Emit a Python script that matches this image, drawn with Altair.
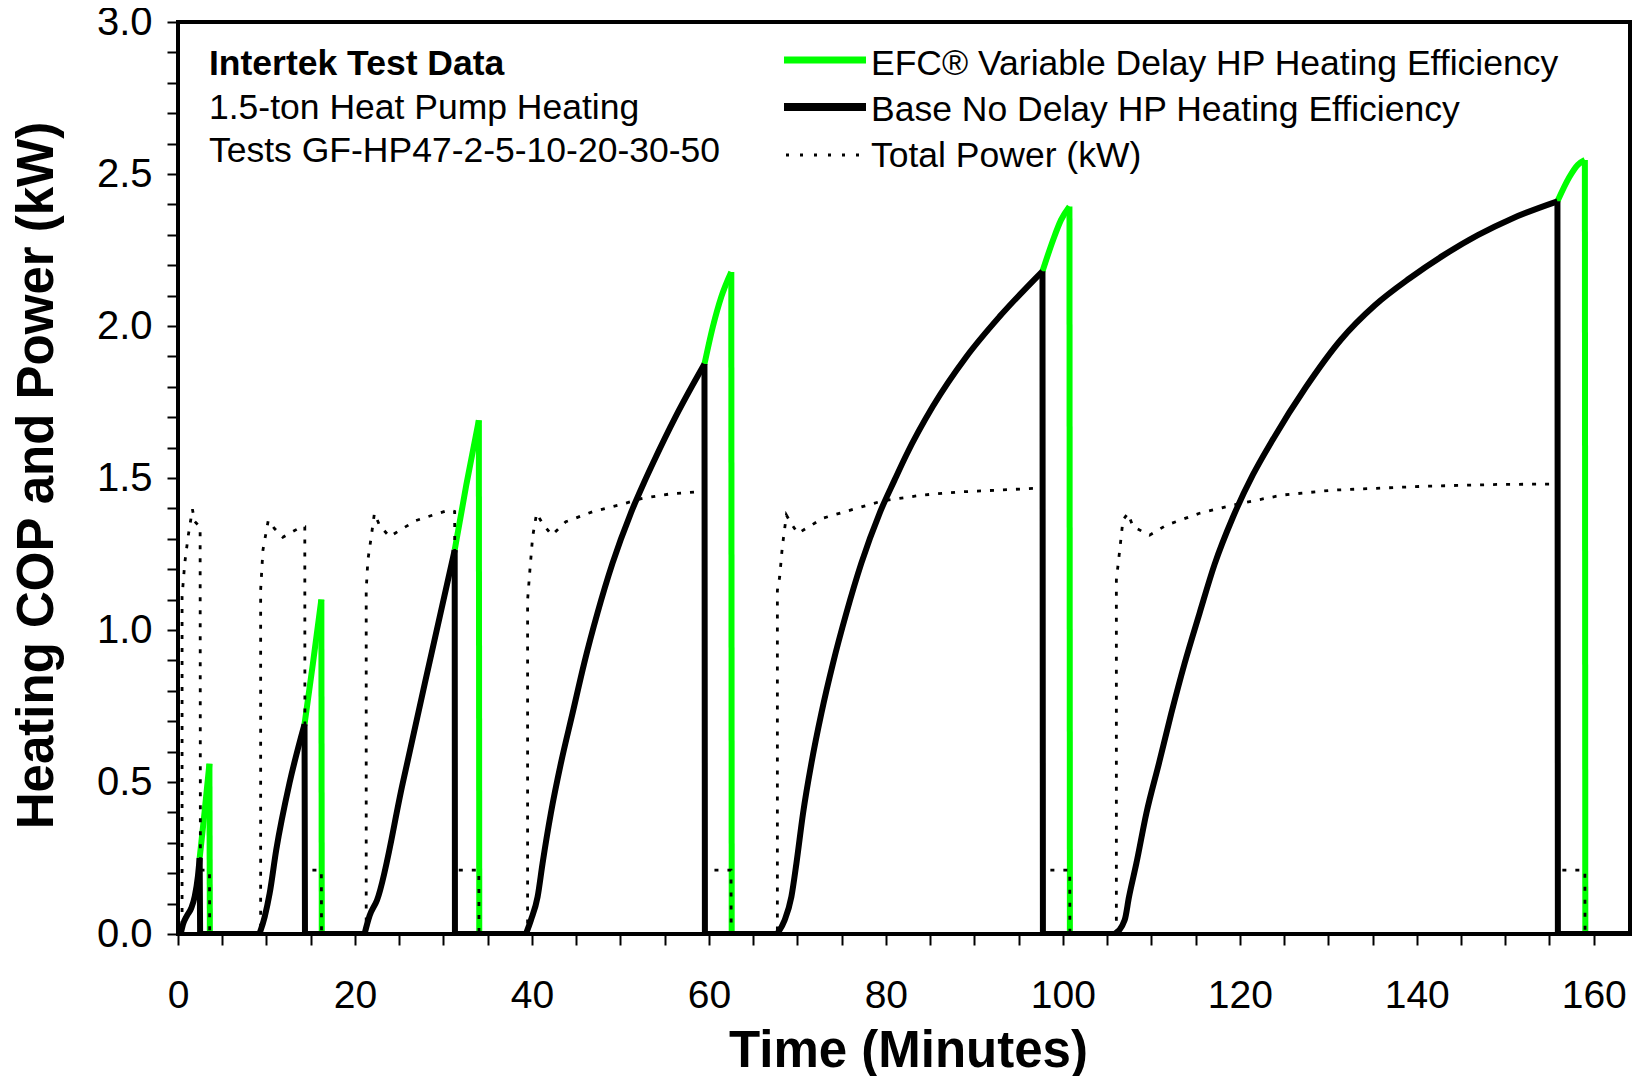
import altair as alt
import pandas as pd

# ---------------- data ----------------
# Base (no delay) heat-pump heating COP, minutes vs COP
base_t = [0, 0.3, 0.6, 1.0, 1.5, 1.9, 2.25, 2.45, 2.5,
          9.2, 9.8, 10.36, 11.1, 12.6, 14.3, 14.35,
          21.08, 21.65, 22.5, 25.4, 27.9, 31.27, 31.3,
          39.32, 39.89, 40.64, 41.2, 42.14, 43.27, 44.59, 45.9, 47.4, 49.1, 51.17, 52.67, 53.7, 56.3, 59.5, 59.55,
          67.7, 68.57, 69.32, 69.89, 70.64, 71.58, 72.71, 74.02, 75.53, 77.22, 79.29, 80.98, 82.3, 85.3, 89.1, 92.85, 97.7, 97.75,
          105.86, 106.99, 107.48, 108.31, 109.44, 110.86, 112.26, 113.76, 115.45, 117.14, 119.21, 121.47, 123.6, 127.5,
          131.4, 135.3, 139.2, 143.1, 146.9, 150.8, 155.9, 155.95,
          165]
base_cop = [0, 0, 0.035, 0.06, 0.085, 0.125, 0.19, 0.25, 0,
            0, 0.057, 0.134, 0.276, 0.496, 0.69, 0,
            0, 0.06, 0.112, 0.496, 0.825, 1.263, 0,
            0, 0.046, 0.122, 0.232, 0.397, 0.561, 0.726, 0.89, 1.055, 1.219, 1.384, 1.485, 1.55, 1.705, 1.875, 0,
            0, 0.046, 0.122, 0.232, 0.397, 0.561, 0.726, 0.89, 1.055, 1.219, 1.384, 1.493, 1.575, 1.735, 1.899, 2.031, 2.18, 0,
            0, 0.046, 0.122, 0.232, 0.397, 0.561, 0.726, 0.89, 1.055, 1.215, 1.37, 1.51, 1.62, 1.80,
            1.954, 2.069, 2.157, 2.234, 2.299, 2.354, 2.41, 0,
            0]

# EFC variable delay heating COP (same as base while compressor runs, then keeps rising during fan delay)
efc_t = [0, 0.3, 0.6, 1.0, 1.5, 1.9, 2.25, 2.45, 3.0, 3.55, 3.6,
         9.2, 9.8, 10.36, 11.1, 12.6, 14.3, 15.25, 16.2, 16.25,
         21.08, 21.65, 22.5, 25.4, 27.9, 31.27, 32.6, 34.0, 34.05,
         39.32, 39.89, 40.64, 41.2, 42.14, 43.27, 44.59, 45.9, 47.4, 49.1, 51.17, 52.67, 53.7, 56.3, 59.5,
         60.45, 61.4, 62.53, 62.58,
         67.7, 68.57, 69.32, 69.89, 70.64, 71.58, 72.71, 74.02, 75.53, 77.22, 79.29, 80.98, 82.3, 85.3, 89.1, 92.85, 97.7,
         98.9, 99.8, 100.75, 100.8,
         105.86, 106.99, 107.48, 108.31, 109.44, 110.86, 112.26, 113.76, 115.45, 117.14, 119.21, 121.47, 123.6, 127.5,
         131.4, 135.3, 139.2, 143.1, 146.9, 150.8, 155.9,
         157.25, 158.2, 159.0, 159.05,
         165]
efc_cop = [0, 0, 0.035, 0.06, 0.085, 0.125, 0.19, 0.25, 0.40, 0.56, 0,
           0, 0.057, 0.134, 0.276, 0.496, 0.69, 0.89, 1.10, 0,
           0, 0.06, 0.112, 0.496, 0.825, 1.263, 1.48, 1.69, 0,
           0, 0.046, 0.122, 0.232, 0.397, 0.561, 0.726, 0.89, 1.055, 1.219, 1.384, 1.485, 1.55, 1.705, 1.875,
           1.998, 2.096, 2.178, 0,
           0, 0.046, 0.122, 0.232, 0.397, 0.561, 0.726, 0.89, 1.055, 1.219, 1.384, 1.493, 1.575, 1.735, 1.899, 2.031, 2.18,
           2.283, 2.349, 2.393, 0,
           0, 0.046, 0.122, 0.232, 0.397, 0.561, 0.726, 0.89, 1.055, 1.215, 1.37, 1.51, 1.62, 1.80,
           1.954, 2.069, 2.157, 2.234, 2.299, 2.354, 2.41,
           2.49, 2.53, 2.546, 0,
           0]

# Total power (kW)
power_t = [0, 0.46, 0.46, 0.76, 1.14, 1.63, 1.89, 2.45, 2.5, 2.53, 3.56, 3.58,
           9.34, 9.34, 9.6, 9.9, 10.2, 10.9, 11.85, 12.98, 14.1, 14.33, 14.35, 16.2, 16.22,
           21.27, 21.27, 21.46, 21.84, 22.2, 22.77, 23.9, 25.4, 26.9, 28.8, 30.7, 31.27, 31.3, 34.0, 34.02,
           39.51, 39.51, 39.77, 40.08, 40.53, 41.2, 42.26, 43.83, 46.84, 49.85, 52.48, 55.49, 58.87, 59.5, 59.53, 62.5, 62.52,
           67.74, 67.74, 68.0, 68.3, 68.76, 69.3, 70.07, 72.9, 76.65, 79.66, 84.17, 88.2, 96.9, 97.7, 97.73, 100.78, 100.8,
           106.05, 106.05, 106.43, 106.8, 107.37, 107.93, 109.81, 111.7, 115.45, 119.96, 124.85, 130.49, 141.0, 149.5,
           155.88, 155.92, 159.0, 159.02,
           165]
power_kw = [0, 0, 1.11, 1.219, 1.307, 1.397, 1.357, 1.34, 1.34, 0.21, 0.21, 0,
            0, 1.132, 1.263, 1.312, 1.36, 1.334, 1.305, 1.324, 1.342, 1.34, 0.21, 0.21, 0,
            0, 1.132, 1.23, 1.307, 1.384, 1.345, 1.307, 1.334, 1.36, 1.378, 1.395, 1.39, 0.21, 0.21, 0,
            0, 1.098, 1.197, 1.307, 1.384, 1.35, 1.312, 1.356, 1.389, 1.411, 1.433, 1.447, 1.455, 1.456, 0.21, 0.21, 0,
            0, 1.13, 1.175, 1.274, 1.378, 1.35, 1.318, 1.368, 1.4, 1.425, 1.444, 1.454, 1.466, 1.466, 0.21, 0.21, 0,
            0, 1.164, 1.263, 1.362, 1.384, 1.34, 1.312, 1.345, 1.384, 1.416, 1.444, 1.46, 1.473, 1.479,
            1.48, 0.21, 0.21, 0,
            0]

x_ticks = list(range(0, 165, 5))
y_ticks = [round(i * 0.1, 1) for i in range(31)]

annotation_lines = ["Intertek Test Data",
                    "1.5-ton Heat Pump Heating",
                    "Tests GF-HP47-2-5-10-20-30-50"]
legend_labels = ["EFC\u00ae Variable Delay HP Heating Efficiency",
                 "Base No Delay HP Heating Efficiency",
                 "Total Power (kW)"]

# ---------------- chart ----------------
FONT = "Liberation Sans"
GREEN = "#00ff00"


def series_df(t, v):
    return pd.DataFrame({"t": t, "v": v, "i": list(range(len(t)))})


def split_series(t, v):
    """Split a COP trace into rising curves (smooth) and drop/zero parts (straight)."""
    n = len(t)
    rise_rows, flat_rows = [], []
    i = 0
    seg = 0
    while i < n:
        if v[i] > 0:
            j = i
            while j + 1 < n and v[j + 1] > 0:
                j += 1
            for k in range(max(i - 1, 0), j + 1):
                rise_rows.append({"t": t[k], "v": v[k], "i": k, "g": seg})
        else:
            j = i
            while j + 1 < n and v[j + 1] <= 0:
                j += 1
            for k in range(i - 1 if i > 0 else i, j + 1):
                flat_rows.append({"t": t[k], "v": v[k], "i": k, "g": seg})
        seg += 1
        i = j + 1
    return pd.DataFrame(rise_rows), pd.DataFrame(flat_rows)


def split_tails(t, v, shared_t):
    """Parts of the EFC trace that extend past the base trace: rising tail and the drop."""
    shared = set(shared_t)
    n = len(t)
    tail_rows, drop_rows = [], []
    k = 0
    g = 0
    while k < n:
        if t[k] not in shared and v[k] > 0:
            j = k
            while j + 1 < n and t[j + 1] not in shared and v[j + 1] > 0:
                j += 1
            for m in range(k - 1, j + 1):
                tail_rows.append({"t": t[m], "v": v[m], "i": m, "g": g})
            for m in (j, j + 1):
                drop_rows.append({"t": t[m], "v": v[m], "i": m, "g": g})
            g += 1
            k = j + 1
        else:
            k += 1
    return pd.DataFrame(tail_rows), pd.DataFrame(drop_rows)


xs = alt.Scale(domain=[0, 164.1], nice=False, zero=False)
ys = alt.Scale(domain=[0, 3.0], nice=False, zero=False)

x_axis = alt.Axis(
    title="Time (Minutes)", values=x_ticks,
    labelExpr="datum.value % 20 === 0 ? format(datum.value, 'd') : ''",
    labelFlush=False, labelOverlap=False, labelBaseline="alphabetic",
    labelPadding=62, tickSize=11, labelFontSize=39,
    titleX=730, titleY=132, titleAlign="center", titleBaseline="alphabetic",
)
y_axis = alt.Axis(
    title="Heating COP and Power (kW)", values=y_ticks,
    labelExpr="round(datum.value * 10) % 5 === 0 ? format(datum.value, '.1f') : ''",
    labelOverlap=False, labelPadding=15, tickSize=11, labelFontSize=40,
    titleX=-126, titleY=453, titleAngle=270, titleAlign="center", titleBaseline="alphabetic",
)

x_enc = alt.X("t:Q", scale=xs, axis=x_axis)
y_enc = alt.Y("v:Q", scale=ys, axis=y_axis)


def smooth(df, color):
    return alt.Chart(df).mark_line(
        color=color, strokeWidth=6, strokeJoin="bevel", interpolate="monotone", clip=True
    ).encode(x=x_enc, y=y_enc, detail="g:N", order="i:Q")


def straight(df, color):
    return alt.Chart(df).mark_line(
        color=color, strokeWidth=6, strokeJoin="miter", clip=True
    ).encode(x=x_enc, y=y_enc, detail="g:N", order="i:Q")


efc_tail_df, efc_drop_df = split_tails(efc_t, efc_cop, base_t)
base_rise_df, base_flat_df = split_series(base_t, base_cop)

layers_cop = [
    smooth(efc_tail_df, GREEN), straight(efc_drop_df, GREEN),
    smooth(base_rise_df, "black"), straight(base_flat_df, "black"),
]

power_line = alt.Chart(series_df(power_t, power_kw)).mark_line(
    color="black", strokeWidth=2.8, strokeDash=[4, 9], clip=True
).encode(x=x_enc, y=y_enc, order="i:Q")

one = alt.Data(values=[{}])


def text_layer(s, x, y, size, weight="normal"):
    return alt.Chart(one).mark_text(
        text=s, align="left", baseline="alphabetic", font=FONT,
        fontSize=size, fontWeight=weight, color="black"
    ).encode(x=alt.value(x), y=alt.value(y))


annotations = [
    text_layer(annotation_lines[0], 31, 53, 35.5, "bold"),
    text_layer(annotation_lines[1], 31, 97, 35.5),
    text_layer(annotation_lines[2], 31, 140, 35.5),
]

legend_rules = [
    alt.Chart(one).mark_rule(color=GREEN, strokeWidth=7).encode(
        x=alt.value(606), x2=alt.value(688), y=alt.value(38)),
    alt.Chart(one).mark_rule(color="black", strokeWidth=8).encode(
        x=alt.value(606), x2=alt.value(688), y=alt.value(85)),
    alt.Chart(one).mark_rule(color="black", strokeWidth=2.8, strokeDash=[3, 11]).encode(
        x=alt.value(608), x2=alt.value(688), y=alt.value(133)),
]
legend_texts = [
    text_layer(legend_labels[0], 693, 53, 35.5),
    text_layer(legend_labels[1], 693, 99, 35.5),
    text_layer(legend_labels[2], 693, 145, 35.5),
]

chart = alt.layer(
    *layers_cop, power_line, *annotations, *legend_rules, *legend_texts
).properties(
    width=1452, height=912,
    padding={"left": 170, "top": 14, "right": 2, "bottom": 142},
    autosize=alt.AutoSizeParams(type="none"),
).configure_view(
    stroke="black", strokeWidth=4
).configure_axis(
    domain=False, grid=False, ticks=True, tickColor="black", tickWidth=2,
    labelFont=FONT, labelFontSize=38, labelColor="black",
    titleFont=FONT, titleFontSize=51, titleFontWeight="bold", titleColor="black",
)

chart.save("out.html", embed_options={"renderer": "svg", "actions": False})
